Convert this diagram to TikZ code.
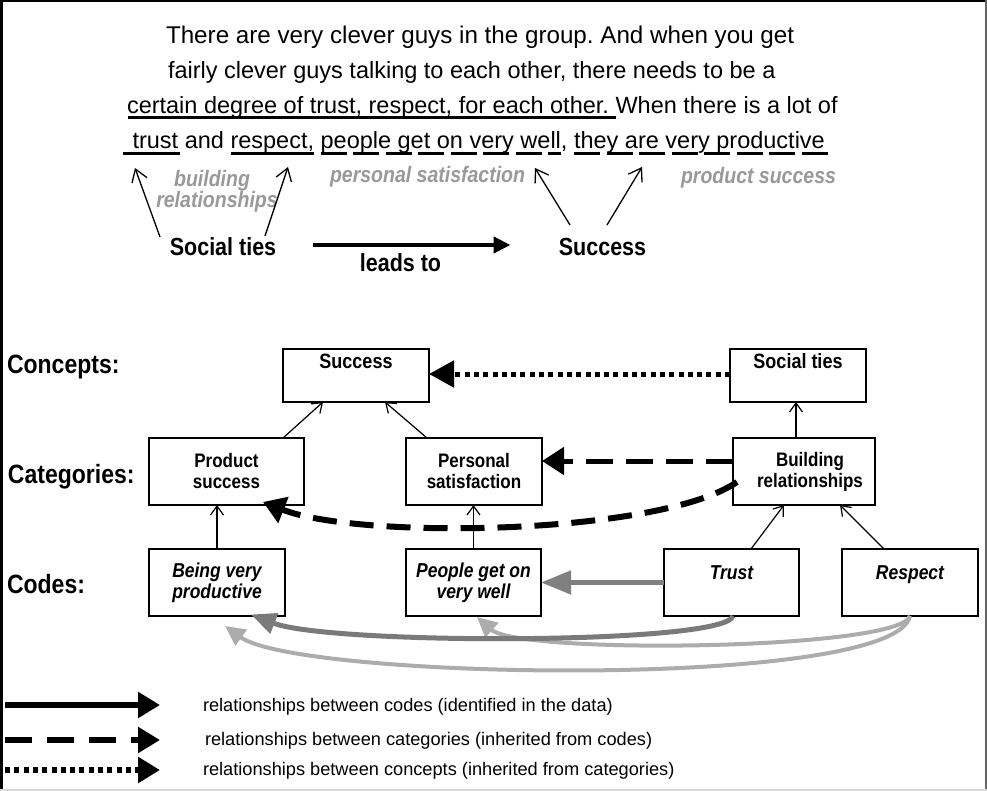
\documentclass[tikz,border=0pt]{standalone}
\usepackage{graphicx}
\usepackage{fontspec}
\setmainfont{Liberation Sans}
\usetikzlibrary{arrows.meta,calc}
\frenchspacing

\definecolor{labelgray}{RGB}{153,153,153}
\definecolor{linkdark}{RGB}{122,122,122}
\definecolor{linkmid}{RGB}{128,128,128}
\definecolor{linklight}{RGB}{172,172,172}
\definecolor{framegray}{RGB}{100,100,100}

\newcommand\fsz[2]{\fontsize{#1}{#2}\selectfont}
% slightly taller lettering for the bold labels
\newcommand\tall[1]{\scalebox{1}[1.15]{#1}}
% an inter-word space that survives at the end of a node
\newcommand\keepsp{\ \mbox{}}

\tikzset{
  quote/.style={anchor=base west, font=\fsz{23.5}{28}},
  ulsolid/.style={line width=3pt},
  uldash/.style={line width=3pt, dash pattern=on 26pt off 6.5pt},
  toplabel/.style={anchor=base, font=\bfseries\fsz{21.5}{26}},
  graytag/.style={anchor=base, font=\bfseries\itshape\fsz{19.5}{22}, text=labelgray},
  pointer/.style={line width=1.3pt, -{Straight Barb[length=12pt,width=16pt]}},
  leads/.style={line width=4.5pt, -{Triangle[length=17pt,width=16pt]}},
  level/.style={anchor=base west, font=\bfseries\fsz{23}{27}},
  box/.style={draw, line width=1.2pt, fill=white, align=center},
  conceptbox/.style={box, font=\bfseries\fsz{18}{21}, minimum height=53pt, text height=13pt, text depth=27pt},
  catbox/.style={box, font=\bfseries\fsz{17}{21}, minimum height=67pt},
  codebox/.style={box, font=\bfseries\itshape\fsz{17.5}{21}, minimum height=67pt},
  toptext/.style={text height=12.5pt, text depth=18.5pt},
  link/.style={line width=1.2pt, -{Straight Barb[length=9pt,width=13pt]}},
  conceptlink/.style={line width=5pt, dash pattern=on 5pt off 4.3pt, -{Triangle[length=25pt,width=26pt]}},
  catlink/.style={line width=5pt, dash pattern=on 27pt off 13pt, -{Triangle[length=22pt,width=27pt]}},
  codelink/.style={line width=5pt, color=linkmid, -{Triangle[length=30pt,width=23pt]}},
  lightlink/.style={line width=4pt, color=linklight, -{Triangle[length=20pt,width=19pt]}},
  darklink/.style={line width=5pt, color=linkdark, -{Triangle[length=25pt,width=21pt]}},
  legendtext/.style={anchor=base west, font=\fsz{18.2}{22}},
  legendtip/.style={-{Triangle[length=22pt,width=25pt]}},
}

\begin{document}
\begin{tikzpicture}[x=1pt, y=-1pt, every node/.style={inner sep=0pt, outer sep=0pt}]
\useasboundingbox (0,0) rectangle (987,791);

% ---------- quotation ----------
\node[quote, font=\fsz{24.2}{28}] (l1) at (166,44) {There are very clever guys in the group. And when you get};
\node[quote] (l2) at (168,79) {fairly clever guys talking to each other, there needs to be a};
\node[quote] (l3a) at (127,114) {certain degree of trust, respect, for each other.\keepsp};
\node[quote] (l3b) at (l3a.base east) {When there is a lot of};
\draw[ulsolid] ($(l3a.base west)+(1,4)$) -- ($(l3a.base east)+(0,4)$);

\node[quote] (l4a) at (126,149) {\ trust};
\node[quote] (l4b) at (l4a.base east) {\ and\keepsp};
\node[quote] (l4c) at (l4b.base east) {respect,};
\node[quote] (l4d) at (l4c.base east) {\mbox{}\keepsp};
\node[quote] (l4e) at (l4d.base east) {people get on very well};
\node[quote] (l4f) at (l4e.base east) {,\keepsp};
\node[quote] (l4g) at (l4f.base east) {they are very productive\keepsp};
\draw[ulsolid] ($(l4a.base west)+(-3,5)$) -- ($(l4a.base east)+(2,5)$);
\draw[ulsolid] ($(l4c.base west)+(0,5)$) -- ($(l4c.base east)+(0,5)$);
\draw[uldash] ($(l4e.base west)+(0,5)$) -- ($(l4e.base east)+(0,5)$);
\draw[uldash] ($(l4g.base west)+(0,5)$) -- ($(l4g.base east)+(0,5)$);

% ---------- annotations of the quotation ----------
\node[graytag] (tagbuild1) at (212,187) {\tall{building}};
\node[graytag] (tagbuild2) at (217,208) {\tall{relationships}};
\node[graytag, anchor=base west] (tagpers) at (330,183) {\tall{personal satisfaction}};
\node[graytag, anchor=base west] (tagprod) at (681,184) {\tall{product success}};

\node[toplabel] (stl) at (223,256) {\tall{Social ties}};
\node[toplabel] (sul) at (602.5,256) {\tall{Success}};
\node[toplabel] (leadslbl) at (400.5,272) {\tall{leads to}};

\coordinate (wtrust) at (135,168);
\coordinate (wrespect) at (288,167);
\coordinate (wwell) at (535,168);
\coordinate (wthey) at (642,167);

\draw[pointer] ($(stl.base)+(-63,-19)$) -- (wtrust);
\draw[pointer] ($(stl.base)+(42,-20)$) -- (wrespect);
\draw[pointer] ($(sul.base)+(-32.5,-31)$) -- (wwell);
\draw[pointer] ($(sul.base)+(4.5,-31)$) -- (wthey);
\draw[leads] ($(stl.base)+(90,-11)$) -- ($(sul.base)+(-92,-11)$);

% ---------- levels ----------
\node[level] (lvconcepts) at (7,373) {\tall{Concepts:}};
\node[level] (lvcategories) at (8,483) {\tall{Categories:}};
\node[level] (lvcodes) at (7,593) {\tall{Codes:}};

% ---------- boxes ----------
\node[conceptbox, minimum width=146pt] (success) at (356,375.5) {\tall{Success}};
\node[conceptbox, minimum width=136pt] (social) at (798,375.5) {\tall{Social ties}};
\node[catbox, minimum width=155pt] (prod) at (226.5,471.5) {\tall{Product}\\\tall{success}};
\node[catbox, minimum width=136pt] (pers) at (474,471.5) {\tall{Personal}\\\tall{satisfaction}};
\node[catbox, minimum width=142pt] (build) at (804,471.5) {\hspace*{12pt}\tall{Building}\\\hspace*{12pt}\tall{relationships}};
\node[codebox, minimum width=136pt] (being) at (217,582.5) {\tall{Being very}\\\tall{productive}};
\node[codebox, minimum width=135pt] (people) at (473.5,582.5) {\tall{People get on}\\\tall{very well}};
\node[codebox, toptext, minimum width=135pt] (trust) at (731.5,582.5) {\tall{Trust}};
\node[codebox, toptext, minimum width=136pt] (respect) at (910,582.5) {\tall{Respect}};

% ---------- hierarchy links ----------
\draw[link] ([xshift=56.5pt]prod.north) -- ([xshift=-33pt]success.south);
\draw[link] ([xshift=-47pt]pers.north) -- ([xshift=29pt]success.south);
\draw[link] ([xshift=-8pt]build.north) -- ([xshift=-2pt]social.south);
\draw[link] (being.north) -- (being.north |- prod.south);
\draw[link] (people.north) -- (people.north |- pers.south);
\draw[link] ([xshift=19.5pt]trust.north) -- ([xshift=-20pt]build.south);
\draw[link] ([xshift=-26pt]respect.north) -- ([xshift=36pt]build.south);

% ---------- relationships ----------
\draw[conceptlink] ([yshift=1.5pt]social.west) -- ([yshift=1.5pt]success.east);
\draw[catlink] ([yshift=10.5pt]build.west) -- ([yshift=10.5pt]pers.east);
\draw[catlink, line width=6pt, dash pattern=on 24pt off 13pt]
  ([xshift=4pt,yshift=-10.5pt]build.west) .. controls (660,535) and (360,540)
  .. ([xshift=-41pt,yshift=3pt]prod.south east);

\draw[codelink] (trust.west) -- (people.east);
\draw[lightlink] (respect.south) .. controls (900,650) and (520,655)
  .. ([xshift=3.5pt,yshift=-1pt]people.south);
\draw[lightlink] (respect.south) .. controls (895,690) and (300,680)
  .. ([xshift=8pt,yshift=-10pt]being.south);
\draw[darklink] ([xshift=1.5pt]trust.south) .. controls (725,645) and (330,645)
  .. ([xshift=-34pt,yshift=1.5pt]being.south east);

% ---------- legend ----------
\coordinate (lg1a) at (5,705);   \coordinate (lg1b) at (160,705);
\coordinate (lg2a) at (5,740);   \coordinate (lg2b) at (160,740);
\coordinate (lg3a) at (5,770);   \coordinate (lg3b) at (160,770);
\draw[legendtip, line width=5.5pt] (lg1a) -- (lg1b);
\draw[legendtip, line width=5.5pt, dash pattern=on 27pt off 15pt] (lg2a) -- (lg2b);
\draw[legendtip, line width=5.5pt, dash pattern=on 5pt off 4.3pt] (lg3a) -- (lg3b);
\node[legendtext] (lgt1) at (203,711) {relationships between codes (identified in the data)};
\node[legendtext] (lgt2) at (205,745) {relationships between categories (inherited from codes)};
\node[legendtext] (lgt3) at (203,775) {relationships between concepts (inherited from categories)};

% ---------- frame ----------
\draw[line width=2.5pt] (0,1.25) -- (986,1.25);
\draw[line width=2.5pt] (1.25,0) -- (1.25,791);
\draw[line width=2pt, framegray] (985.5,0) -- (985.5,791);
\draw[line width=1.5pt, black!15] (0,790) -- (987,790);
\end{tikzpicture}
\end{document}
